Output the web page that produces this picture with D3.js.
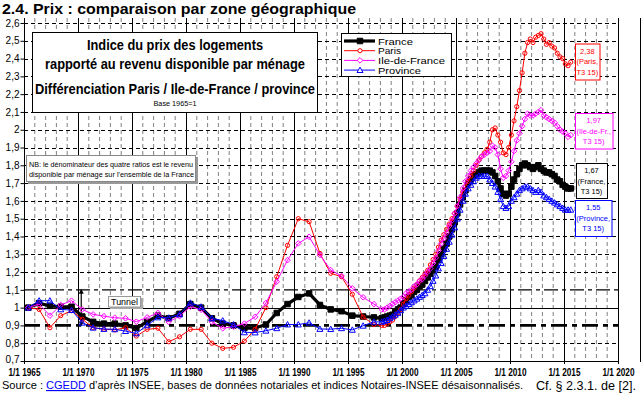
<!DOCTYPE html>
<html>
<head>
<meta charset="utf-8">
<script src="https://cdn.jsdelivr.net/npm/d3@7"></script>
<style>
  body { margin: 0; background: #fff; }
  svg { display: block; font-family: "Liberation Sans", Arial, sans-serif; }
</style>
</head>
<body>
<div id="chart"></div>
<script>
/* DATA */
// annual values 1965..1997, then quarterly values 1998 T1 .. 2015 T3
const annualYears = d3.range(1965, 1998);
const quarterTimes = d3.range(0, 71).map(i => 1998 + i / 4 + 0.125);

const franceAnnual = [1.00, 1.025, 1.01, 1.005, 1.005, 0.95, 0.92, 0.91, 0.91, 0.90, 0.885, 0.92, 0.955, 0.94, 0.965,
  1.02, 1.00, 0.94, 0.91, 0.90, 0.885, 0.885, 0.905, 0.97, 1.02, 1.06, 1.08, 1.015, 0.99, 0.98, 0.955, 0.95, 0.945];
const parisAnnual = [1.00, 0.99, 0.887, 0.955, 0.983, 0.935, 0.887, 0.878, 0.875, 0.887, 0.84, 0.878, 0.884, 0.808, 0.836,
  0.878, 0.878, 0.80, 0.771, 0.777, 0.812, 0.878, 1.00, 1.174, 1.35, 1.50, 1.483, 1.305, 1.193, 1.174, 1.075, 0.947, 0.905];
const idfAnnual = [1.00, 1.02, 0.955, 1.015, 1.039, 0.99, 0.962, 0.952, 0.943, 0.94, 0.921, 0.945, 0.97, 0.92, 0.952,
  1.005, 0.988, 0.92, 0.884, 0.893, 0.91, 0.948, 1.026, 1.146, 1.267, 1.361, 1.398, 1.296, 1.211, 1.178, 1.108, 1.058, 1.02];
const provinceAnnual = [1.00, 1.039, 1.039, 0.99, 0.986, 0.915, 0.887, 0.88, 0.878, 0.868, 0.855, 0.90, 0.945, 0.943, 0.962,
  1.027, 1.005, 0.94, 0.927, 0.905, 0.861, 0.86, 0.87, 0.884, 0.905, 0.905, 0.915, 0.88, 0.879, 0.884, 0.875, 0.898, 0.92];

const franceQuarterly = [
  0.94, 0.945, 0.95, 0.955,  0.96, 0.975, 0.99, 1.00,  1.02, 1.04, 1.06, 1.07,  1.09, 1.10, 1.12, 1.13,
  1.15, 1.17, 1.19, 1.21,  1.23, 1.27, 1.30, 1.33,  1.36, 1.40, 1.44, 1.48,  1.53, 1.58, 1.62, 1.66,
  1.70, 1.72, 1.74, 1.75,  1.76, 1.77, 1.77, 1.77,  1.77, 1.76, 1.74, 1.71,  1.67, 1.64, 1.63, 1.64,
  1.68, 1.72, 1.75, 1.78,  1.80, 1.81, 1.80, 1.79,  1.78, 1.79, 1.80, 1.78,  1.77, 1.76, 1.76, 1.75,
  1.74, 1.72, 1.71, 1.69,  1.68, 1.67, 1.67];
const parisQuarterly = [
  0.90, 0.90, 0.91, 0.92,  0.93, 0.95, 0.97, 0.99,  1.02, 1.05, 1.07, 1.09,  1.11, 1.13, 1.15, 1.17,
  1.19, 1.21, 1.24, 1.27,  1.30, 1.34, 1.38, 1.41,  1.44, 1.47, 1.50, 1.53,  1.57, 1.61, 1.65, 1.68,
  1.71, 1.74, 1.77, 1.80,  1.83, 1.85, 1.87, 1.89,  1.93, 2.00, 2.01, 1.97,  1.93, 1.87, 1.86, 1.90,
  1.97, 2.05, 2.13, 2.22,  2.32, 2.43, 2.49, 2.51,  2.49, 2.52, 2.53, 2.54,  2.51, 2.48, 2.49, 2.47,
  2.46, 2.43, 2.41, 2.40,  2.37, 2.36, 2.38];
const idfQuarterly = [
  0.99, 0.99, 1.00, 1.01,  1.02, 1.03, 1.04, 1.05,  1.06, 1.08, 1.09, 1.10,  1.12, 1.13, 1.15, 1.16,
  1.18, 1.20, 1.22, 1.25,  1.28, 1.32, 1.36, 1.39,  1.42, 1.46, 1.49, 1.53,  1.57, 1.62, 1.67, 1.71,
  1.74, 1.77, 1.79, 1.81,  1.83, 1.85, 1.86, 1.87,  1.88, 1.91, 1.90, 1.86,  1.78, 1.73, 1.74, 1.77,
  1.82, 1.88, 1.94, 1.98,  2.02, 2.06, 2.09, 2.08,  2.08, 2.09, 2.10, 2.11,  2.08, 2.07, 2.06, 2.05,
  2.04, 2.02, 2.00, 1.99,  1.98, 1.96, 1.97];
const provinceQuarterly = [
  0.92, 0.925, 0.93, 0.94,  0.95, 0.96, 0.97, 0.985,  1.00, 1.01, 1.02, 1.03,  1.04, 1.05, 1.06, 1.07,
  1.08, 1.10, 1.12, 1.15,  1.18, 1.22, 1.25, 1.29,  1.33, 1.37, 1.41, 1.45,  1.50, 1.55, 1.60, 1.64,
  1.67, 1.69, 1.71, 1.73,  1.74, 1.74, 1.74, 1.74,  1.72, 1.70, 1.68, 1.65,  1.61, 1.57, 1.56, 1.57,
  1.60, 1.62, 1.64, 1.66,  1.67, 1.68, 1.68, 1.67,  1.66, 1.65, 1.66, 1.65,  1.63, 1.62, 1.61, 1.60,
  1.59, 1.58, 1.57, 1.56,  1.55, 1.55, 1.55];

const seriesNames = ["France", "Paris", "Ile-de-France", "Province"];
const endLabels = [["1,67", "(France,", "T3 15)"], ["2,38", "(Paris,", "T3 15)"],
  ["1,97", "(Ile-de-Fr.,", "T3 15)"], ["1,55", "(Province,", "T3 15)"]];

const yTicks = d3.range(7, 27).map(d => d / 10);
const xMajor = d3.range(1965, 2021, 5);
const xMinor = d3.range(1965, 2021).filter(d => d % 5 !== 0);

/* LAYOUT */
const width = 644, height = 398;
const plot = { left: 24, right: 618, top: 18, bottom: 361 };

const x = d3.scaleLinear().domain([1965, 2020]).range([plot.left, plot.right]);
const y = d3.scaleLinear().domain([0.7, 2.6]).range([plot.bottom, 23]);

const styles = {
  "France":        { color: "#000000", width: 3.2, marker: "square",   size: 5.5, fill: "#000000", legLen: 35 },
  "Paris":         { color: "#ff0000", width: 1,   marker: "circle",   size: 2.1, fill: "none", legLen: 23 },
  "Ile-de-France": { color: "#ff00ff", width: 1,   marker: "diamond",  size: 2.8, fill: "none", legLen: 67 },
  "Province":      { color: "#0000ff", width: 1,   marker: "triangle", size: 3,   fill: "none", legLen: 43 }
};

function buildSeries(name, annual, quarterly) {
  const pts = annualYears.map((yr, i) => ({ t: yr + 0.4, v: annual[i] }))
    .concat(quarterTimes.map((t, i) => ({ t: t, v: quarterly[i] })));
  return { name, points: pts };
}

const allSeries = [
  buildSeries("France", franceAnnual, franceQuarterly),
  buildSeries("Paris", parisAnnual, parisQuarterly),
  buildSeries("Ile-de-France", idfAnnual, idfQuarterly),
  buildSeries("Province", provinceAnnual, provinceQuarterly)
];

const svg = d3.select("#chart").append("svg")
  .attr("width", width)
  .attr("height", height);

svg.append("rect").attr("width", width).attr("height", height).attr("fill", "#fff");

// title
svg.append("text")
  .attr("x", 2).attr("y", 14)
  .attr("font-size", 15).attr("font-weight", "bold")
  .attr("textLength", 354).attr("lengthAdjust", "spacingAndGlyphs")
  .text("2.4. Prix : comparaison par zone géographique");

/* GRID */
const grid = svg.append("g");

// vertical minor (gray dashed)
grid.selectAll(".vminor").data(xMinor).join("line")
  .attr("x1", d => x(d)).attr("x2", d => x(d))
  .attr("y1", plot.top).attr("y2", plot.bottom)
  .attr("stroke", "#808080").attr("stroke-dasharray", "4,3");

// horizontal dashed
grid.selectAll(".hgrid").data(yTicks.filter(d => d > 0.75 && ![0.9, 1, 1.1].includes(d))).join("line")
  .attr("x1", plot.left).attr("x2", plot.right)
  .attr("y1", d => Math.round(y(d)) + 0.5).attr("y2", d => Math.round(y(d)) + 0.5)
  .attr("stroke", "#000").attr("stroke-dasharray", "4,3");

// vertical major solid
grid.selectAll(".vmajor").data(xMajor).join("line")
  .attr("x1", d => Math.round(x(d)) + 0.5).attr("x2", d => Math.round(x(d)) + 0.5)
  .attr("y1", plot.top).attr("y2", plot.bottom + 3)
  .attr("stroke", "#000");

// base line 1
grid.append("line")
  .attr("x1", plot.left).attr("x2", plot.right)
  .attr("y1", Math.round(y(1)) + 0.5).attr("y2", Math.round(y(1)) + 0.5)
  .attr("stroke", "#000");

// tunnel lines 0.9 and 1.1
grid.append("line")
  .attr("x1", plot.left).attr("x2", plot.right)
  .attr("y1", y(1.1)).attr("y2", y(1.1))
  .attr("stroke", "#000").attr("stroke-width", 1.3).attr("stroke-dasharray", "14,4,4,4");
grid.append("line")
  .attr("x1", plot.left).attr("x2", plot.right)
  .attr("y1", y(0.9)).attr("y2", y(0.9))
  .attr("stroke", "#000").attr("stroke-width", 2.6).attr("stroke-dasharray", "16,5,5,5");

// outer right line
svg.append("line")
  .attr("x1", 640.5).attr("x2", 640.5).attr("y1", plot.top).attr("y2", plot.bottom + 1)
  .attr("stroke", "#000");

/* AXES */
const yAxis = d3.axisLeft(y).tickValues(yTicks).tickSize(4).tickSizeOuter(0)
  .tickFormat(d => String(d).replace(".", ","));
const yG = svg.append("g").attr("transform", `translate(${plot.left + 0.5},0)`).call(yAxis);
yG.select(".domain").attr("d", `M0,${plot.top}V${plot.bottom}`).attr("stroke", "#000");
yG.selectAll("text").attr("font-size", 10).attr("font-family", "Liberation Sans, Arial").attr("fill", "#000").attr("x", -5);
// lift the lowest label slightly so it clears the date labels
yG.selectAll(".tick").filter(d => d === 0.7).select("text").attr("dy", "0.1em");

const xAxis = d3.axisBottom(x).tickValues(xMajor).tickSize(0).tickFormat(d => "1/1 " + d);
const xG = svg.append("g").attr("transform", `translate(0,${plot.bottom + 0.5})`).call(xAxis);
xG.select(".domain").attr("d", `M${plot.left},0H${plot.right}`).attr("stroke", "#000");
xG.selectAll("text")
  .attr("font-size", 10).attr("font-weight", "bold").attr("font-family", "Liberation Sans, Arial")
  .attr("fill", "#000").attr("y", 7).attr("dy", "0.71em")
  .attr("textLength", 32).attr("lengthAdjust", "spacingAndGlyphs");

/* TUNNEL ANNOTATION */
const tun = svg.append("g");
const tx = x(1970.3);
tun.append("line").attr("x1", tx).attr("x2", tx).attr("y1", y(1.1) + 1).attr("y2", y(0.9) - 1)
  .attr("stroke", "#000").attr("stroke-width", 1.2);
tun.append("path").attr("d", `M${tx - 2.5},${y(1.1) + 4}L${tx},${y(1.1) - 1}L${tx + 2.5},${y(1.1) + 4}Z`).attr("fill", "#000");
tun.append("path").attr("d", `M${tx - 2.5},${y(0.9) - 4}L${tx},${y(0.9) + 1}L${tx + 2.5},${y(0.9) - 4}Z`).attr("fill", "#000");
tun.append("rect").attr("x", 110).attr("y", 298).attr("width", 33).attr("height", 11).attr("fill", "#aaa");
tun.append("rect").attr("x", 108.5).attr("y", 296.5).attr("width", 32).attr("height", 10.5)
  .attr("fill", "#fff").attr("stroke", "#999");
tun.append("text").attr("x", 124.5).attr("y", 305).attr("text-anchor", "middle")
  .attr("font-size", 9.5).attr("textLength", 27).attr("lengthAdjust", "spacingAndGlyphs").text("Tunnel");

/* SERIES */
const clipId = "plotclip";
svg.append("clipPath").attr("id", clipId).append("rect")
  .attr("x", plot.left).attr("y", plot.top).attr("width", plot.right - plot.left).attr("height", plot.bottom - plot.top);

const line = d3.line().x(d => x(d.t)).y(d => y(d.v));

function markerPath(type, s) {
  if (type === "square") return `M${-s / 2},${-s / 2}h${s}v${s}h${-s}Z`;
  if (type === "diamond") return `M0,${-s}L${s},0L0,${s}L${-s},0Z`;
  if (type === "triangle") return `M0,${-s}L${s},${s * 0.8}L${-s},${s * 0.8}Z`;
  return d3.arc()({ innerRadius: 0, outerRadius: s, startAngle: 0, endAngle: 2 * Math.PI });
}

const seriesG = svg.append("g").attr("clip-path", `url(#${clipId})`);
allSeries.forEach(s => {
  const st = styles[s.name];
  const g = seriesG.append("g");
  g.append("path").datum(s.points)
    .attr("d", line).attr("fill", "none")
    .attr("stroke", st.color).attr("stroke-width", st.width).attr("stroke-linejoin", "round");
  g.selectAll("path.m").data(s.points).join("path")
    .attr("class", "m")
    .attr("transform", d => `translate(${x(d.t)},${y(d.v)})`)
    .attr("d", markerPath(st.marker, st.size))
    .attr("fill", st.fill === "none" ? "#fff" : st.fill)
    .attr("fill-opacity", st.fill === "none" ? 0 : 1)
    .attr("stroke", st.color).attr("stroke-width", 1);
});

/* TITLE BOX */
const tb = svg.append("g");
tb.append("rect").attr("x", 32.5).attr("y", 32.5).attr("width", 285).attr("height", 80)
  .attr("fill", "#fff").attr("stroke", "#000");
const tbLines = [
  { text: "Indice du prix des logements", y: 50, len: 176, size: 14, bold: true },
  { text: "rapporté au revenu disponible par ménage", y: 69, len: 260, size: 14, bold: true },
  { text: "Différenciation Paris / Ile-de-France / province", y: 94, len: 280, size: 14, bold: true },
  { text: "Base 1965=1", y: 106, len: 43, size: 8, bold: false }
];
tb.selectAll("text").data(tbLines).join("text")
  .attr("x", 175).attr("y", d => d.y).attr("text-anchor", "middle")
  .attr("font-size", d => d.size).attr("font-weight", d => d.bold ? "bold" : "normal")
  .attr("textLength", d => d.len).attr("lengthAdjust", "spacingAndGlyphs")
  .text(d => d.text);

/* NB BOX */
const nb = svg.append("g");
nb.append("rect").attr("x", 28).attr("y", 157).attr("width", 170).attr("height", 27).attr("fill", "#999");
nb.append("rect").attr("x", 26.5).attr("y", 155.5).attr("width", 169).attr("height", 26)
  .attr("fill", "#fff").attr("stroke", "#888");
nb.append("text").attr("x", 29).attr("y", 167).attr("font-size", 7.2)
  .attr("textLength", 164).attr("lengthAdjust", "spacingAndGlyphs")
  .text("NB: le dénominateur des quatre ratios est le revenu");
nb.append("text").attr("x", 29).attr("y", 177).attr("font-size", 7.2)
  .attr("textLength", 165).attr("lengthAdjust", "spacingAndGlyphs")
  .text("disponible par ménage sur l'ensemble de la France");

/* LEGEND */
svg.append("clipPath").attr("id", "legclip").append("rect")
  .attr("x", 342).attr("y", 34).attr("width", 110).attr("height", 42);
const leg = svg.append("g");
leg.append("rect").attr("x", 341.5).attr("y", 33.5).attr("width", 110).attr("height", 43)
  .attr("fill", "#fff").attr("stroke", "#000");
const legItems = leg.append("g").attr("clip-path", "url(#legclip)");
seriesNames.forEach((name, i) => {
  const st = styles[name];
  const ly = 41 + i * 9.7;
  legItems.append("line").attr("x1", 344).attr("x2", 375).attr("y1", ly).attr("y2", ly)
    .attr("stroke", st.color).attr("stroke-width", st.width);
  legItems.append("path").attr("transform", `translate(360,${ly})`)
    .attr("d", markerPath(st.marker, st.size))
    .attr("fill", st.fill === "none" ? "#fff" : st.fill)
    .attr("stroke", st.color);
  legItems.append("text").attr("x", 378).attr("y", ly + 3.6).attr("font-size", 9.8)
    .attr("textLength", st.legLen).attr("lengthAdjust", "spacingAndGlyphs")
    .text(name);
});

/* END LABELS */
const endBoxes = [
  { box: [576, 163, 31, 35], cx: 591.5, color: "#000000" },
  { box: [575, 43.5, 24.5, 36], cx: 587.3, color: "#ff0000" },
  { box: [575, 113, 37.5, 35.5], cx: 593.7, color: "#ff00ff" },
  { box: [575, 200, 36.5, 36], cx: 593.2, color: "#0000ff" }
];
endBoxes.forEach((b, i) => {
  const g = svg.append("g");
  g.append("rect").attr("x", b.box[0] + 0.5).attr("y", b.box[1] + 0.5)
    .attr("width", b.box[2]).attr("height", b.box[3])
    .attr("fill", "#fff").attr("stroke", b.color);
  endLabels[i].forEach((t, j) => {
    g.append("text").attr("x", b.cx).attr("y", b.box[1] + 10 + j * 10.5)
      .attr("text-anchor", "middle").attr("font-size", 7.5).attr("fill", b.color)
      .text(t);
  });
});

/* FOOTER */
const foot = svg.append("text").attr("x", 2).attr("y", 389).attr("font-size", 11.5)
  .attr("textLength", 521).attr("lengthAdjust", "spacingAndGlyphs");
foot.append("tspan").text("Source : ");
foot.append("tspan").attr("fill", "#0000ff").attr("text-decoration", "underline").text("CGEDD");
foot.append("tspan").text(" d’après INSEE, bases de données notariales et indices Notaires-INSEE désaisonnalisés.");

svg.append("text").attr("x", 636).attr("y", 390).attr("font-size", 13).attr("text-anchor", "end")
  .attr("textLength", 100).attr("lengthAdjust", "spacingAndGlyphs")
  .text("Cf. § 2.3.1. de [2].");
</script>
</body>
</html>
